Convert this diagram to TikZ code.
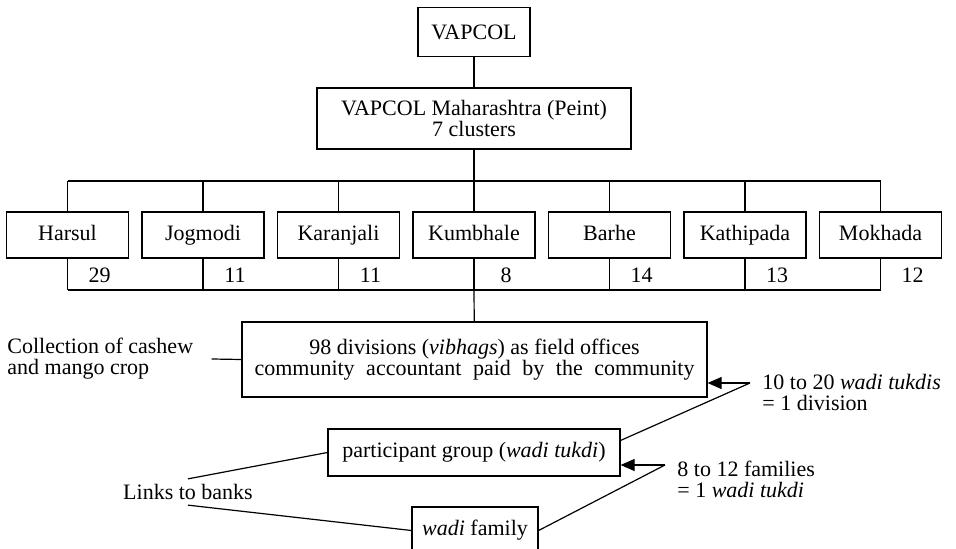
\documentclass[tikz,border=0pt]{standalone}
\usepackage{fontspec}
\setmainfont{Liberation Serif}
\usepackage{tikz}
\usetikzlibrary{positioning,calc,arrows.meta}

\tikzset{
  box/.style={draw, line width=0.6pt, align=center, inner sep=2pt, minimum height=23pt},
  cluster/.style={box, minimum width=61pt, text height=7.5pt, text depth=2.2pt},
  lbl/.style={align=left, inner sep=0pt},
  wire/.style={line width=0.6pt},
  pointer/.style={wire, -{Triangle[length=7pt,width=6pt]}}
}

\begin{document}
\begin{tikzpicture}[x=0.5pt,y=-0.5pt,font=\fontsize{11}{10.5}\selectfont]
    \clip (0,0) rectangle (956,549);

    % head office
    \node[box, minimum width=56pt, minimum height=24.5pt] (vap) at (474,32) {VAPCOL};
    \node[box, minimum width=157pt, minimum height=30.5pt, font=\fontsize{11}{9.5}\selectfont] (mah) at (474,118.5) {VAPCOL Maharashtra (Peint)\\7 clusters};
    \draw[wire] (vap) -- (mah);

    % the seven clusters
    \coordinate (tbus) at (474,181);
    \coordinate (bbus) at (474,290);
    \foreach \name/\num [count=\i from 0] in {Harsul/29,Jogmodi/11,Karanjali/11,Kumbhale/8,Barhe/14,Kathipada/13,Mokhada/12} {
        \node[cluster] (cl\i) at ({67.5+135.5*\i},235) {\name};
        \node (n\i) at ({99.5+135.5*\i},275) {\num};
        \draw[wire] (cl\i.north) -- (cl\i.north |- tbus);
        \draw[wire] (cl\i.south) -- (cl\i.south |- bbus);
    }
    \draw[wire] (mah) -- (tbus);
    \draw[wire] (cl0.north |- tbus) -- (cl6.north |- tbus);
    \draw[wire] (cl0.south |- bbus) -- (cl6.south |- bbus);

    % divisions
    \node[box, minimum width=232.5pt, minimum height=37.5pt] (div) at (474.5,359.5)
        {98 divisions (\textit{vibhags}) as field offices\\\makebox[220pt][s]{community accountant paid by the community}};
    \draw[wire] (bbus) -- (div);
    \node[lbl, anchor=west] (crop) at (7,359) {Collection of cashew\\and mango crop};
    \draw[wire] ([xshift=9pt]crop.east) -- (div.west);

    % groups and families
    \node[box, minimum width=146pt, minimum height=23.5pt] (grp) at (474,452.5) {participant group (\textit{wadi tukdi})};
    \node[box, minimum width=63pt, minimum height=23.5pt] (fam) at (475,530.5) {\textit{wadi} family};
    \node[inner sep=2.5pt] (bank) at (188,492) {Links to banks};
    \draw[wire] (bank.north) -- (grp.west);
    \draw[wire] (bank.south) -- (fam.west);

    % sizes
    \coordinate (p1) at (750,383);
    \coordinate (p2) at (665,465);
    \node[lbl, anchor=west] (t1) at (762,392.5) {10 to 20 \textit{wadi tukdis}\\= 1 division};
    \node[lbl, anchor=west] (t2) at (677,479) {8 to 12 families\\= 1 \textit{wadi tukdi}};
    \draw[pointer] (p1) -- (p1 -| div.east);
    \draw[wire] (p1) -- ($(grp.north east)!0.25!(grp.south east)$);
    \draw[pointer] (p2) -- (p2 -| grp.east);
    \draw[wire] (p2) -- (fam.east);
\end{tikzpicture}
\end{document}
